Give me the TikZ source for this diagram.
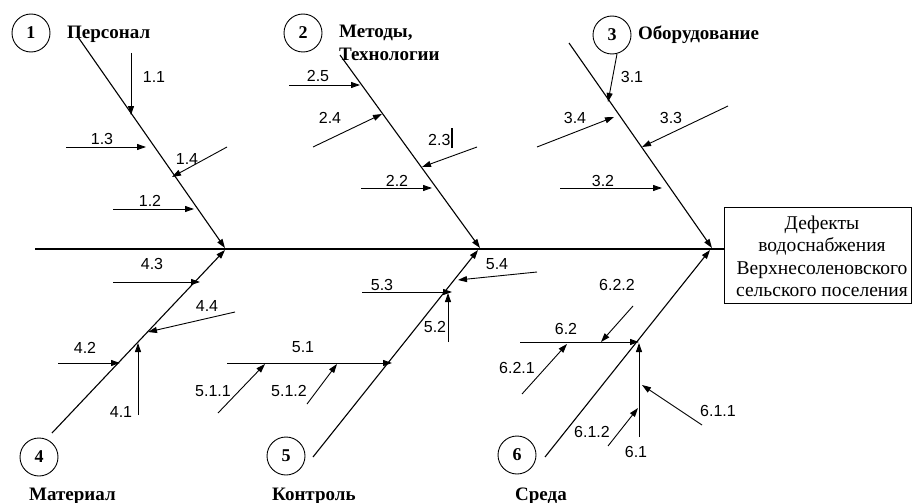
\documentclass[tikz,border=0pt]{standalone}
\usepackage{fontspec}
\setmainfont{Liberation Serif}
\newfontfamily\labfont{Liberation Sans}
\usetikzlibrary{arrows.meta}
\begin{document}
\begin{tikzpicture}[x=1pt,y=-1pt,
  bone/.style={line width=1.1pt},
  bonearr/.style={line width=1.1pt,-{Triangle[length=9pt,width=6pt]}},
  arr/.style={line width=0.9pt,-{Triangle[length=9pt,width=6pt]}},
  num/.style={font=\labfont\fontsize{16}{19}\selectfont,inner sep=0pt},
  head/.style={font=\bfseries\fontsize{19}{22}\selectfont,inner sep=0pt,anchor=base west},
  circ/.style={circle,draw,line width=0.9pt,minimum size=38pt,inner sep=0pt,font=\bfseries\fontsize{18}{20}\selectfont}]
\useasboundingbox (0,0) rectangle (913,503);

% effect box
\node[draw,line width=1pt,anchor=north west,minimum width=187pt,minimum height=96pt,inner sep=0pt] (box) at (724,207) {};
\node[align=center,inner sep=0pt,font=\fontsize{19.5}{22.5}\selectfont] (boxtext) at ([xshift=4pt,yshift=-1pt]box.center)
      {Дефекты\\водоснабжения\\Верхнесоленовского\\сельского поселения};

% circles and headings
\node[circ] (c1) at (31,33) {1};
\node[circ] (c2) at (303,33) {2};
\node[circ] (c3) at (612,35) {3};
\node[circ] (c4) at (39,457) {4};
\node[circ] (c5) at (286,456) {5};
\node[circ] (c6) at (517,455) {6};
\node[head] (h1) at (67,39) {Персонал};
\node[head] (h2a) at (339,38) {Методы,};
\node[head] (h2b) at (339,60) {Технологии};
\node[head] (h3) at (638,40) {Оборудование};
\node[head] (h4) at (29,500) {Материал};
\node[head] (h5) at (272,500) {Контроль};
\node[head] (h6) at (515,500) {Среда};

% spine
\coordinate (sp) at (35,249);
\draw[bone] (sp) -- (sp -| box.west);

% bones
\coordinate (b1s) at (78,37);   \coordinate (b1e) at (225,248);
\coordinate (b2s) at (340,55);  \coordinate (b2e) at (480,248);
\coordinate (b3s) at (569,43);  \coordinate (b3e) at (712,248);
\coordinate (b4s) at (52,433);  \coordinate (b4e) at (225,250);
\coordinate (b5s) at (313,457); \coordinate (b5e) at (478,250);
\coordinate (b6s) at (545,457); \coordinate (b6e) at (710,250);
\foreach \i in {1,...,6} {\draw[bonearr] (b\i s) -- (b\i e);}

% branch 1
\coordinate (a11s) at (131,53);  \coordinate (a11e) at (131,115);
\coordinate (a13s) at (66,147);  \coordinate (a13e) at (146,147);
\coordinate (a14s) at (227,147); \coordinate (a14e) at (172,177);
\coordinate (a12s) at (113,209); \coordinate (a12e) at (194,209);
% branch 2
\coordinate (a25s) at (289,85);  \coordinate (a25e) at (360,85);
\coordinate (a24s) at (313,147); \coordinate (a24e) at (382,114);
\coordinate (a23s) at (477,147); \coordinate (a23e) at (422,167);
\coordinate (a22s) at (361,188); \coordinate (a22e) at (432,188);
% branch 3
\coordinate (a31e) at (608,102);
\coordinate (a34s) at (537,147); \coordinate (a34e) at (614,117);
\coordinate (a33s) at (728,106); \coordinate (a33e) at (642,147);
\coordinate (a32s) at (560,188); \coordinate (a32e) at (662,188);
% branch 4
\coordinate (a43s) at (113,282); \coordinate (a43e) at (200,282);
\coordinate (a44s) at (235,312); \coordinate (a44e) at (148,332);
\coordinate (a42s) at (58,363);  \coordinate (a42e) at (120,363);
\coordinate (a41s) at (138,415); \coordinate (a41e) at (138,343);
% branch 5
\coordinate (a54s) at (537,272); \coordinate (a54e) at (458,280);
\coordinate (a53s) at (362,292); \coordinate (a53e) at (452,292);
\coordinate (a52s) at (448,342); \coordinate (a52e) at (448,293);
\coordinate (a51s) at (227,363); \coordinate (a51e) at (392,363);
\coordinate (a511s) at (218,413); \coordinate (a511e) at (265,364);
\coordinate (a512s) at (307,404); \coordinate (a512e) at (337,364);
% branch 6
\coordinate (a62s) at (520,342); \coordinate (a62e) at (639,342);
\coordinate (a622s) at (633,306); \coordinate (a622e) at (601,342);
\coordinate (a621s) at (522,394); \coordinate (a621e) at (567,344);
\coordinate (a61s) at (639,437); \coordinate (a61e) at (639,343);
\coordinate (a611s) at (702,425); \coordinate (a611e) at (642,385);
\coordinate (a612s) at (608,446); \coordinate (a612e) at (638,408);

\foreach \n in {11,13,14,12,25,24,23,22,34,33,32,43,44,42,41,54,53,52,51,511,512,62,622,621,61,611,612}
  {\draw[arr] (a\n s) -- (a\n e);}
\draw[arr] (c3.-75) -- (a31e);

% labels
\node[num] (l11) at (154,77) {1.1};
\node[num] (l13) at (102,139) {1.3};
\node[num] (l14) at (187,159) {1.4};
\node[num] (l12) at (150,201) {1.2};
\node[num] (l25) at (318,76) {2.5};
\node[num] (l24) at (330,118) {2.4};
\node[num,anchor=base west] (l23) at (428,145) {2.3\kern0.5pt\rule[-3pt]{1.8pt}{20pt}};
\node[num] (l22) at (397,181) {2.2};
\node[num] (l31) at (632,77) {3.1};
\node[num] (l34) at (575,118) {3.4};
\node[num] (l33) at (671,118) {3.3};
\node[num] (l32) at (603,181) {3.2};
\node[num] (l43) at (152,264) {4.3};
\node[num] (l44) at (207,306) {4.4};
\node[num] (l42) at (85,348) {4.2};
\node[num] (l41) at (121,412) {4.1};
\node[num] (l54) at (497,264) {5.4};
\node[num] (l53) at (382,285) {5.3};
\node[num] (l52) at (435,327) {5.2};
\node[num] (l51) at (303,347) {5.1};
\node[num] (l511) at (213,391) {5.1.1};
\node[num] (l512) at (289,391) {5.1.2};
\node[num] (l62) at (566,329) {6.2};
\node[num] (l622) at (617,285) {6.2.2};
\node[num] (l621) at (517,368) {6.2.1};
\node[num] (l61) at (636,452) {6.1};
\node[num] (l611) at (718,411) {6.1.1};
\node[num] (l612) at (592,432) {6.1.2};
\end{tikzpicture}
\end{document}
